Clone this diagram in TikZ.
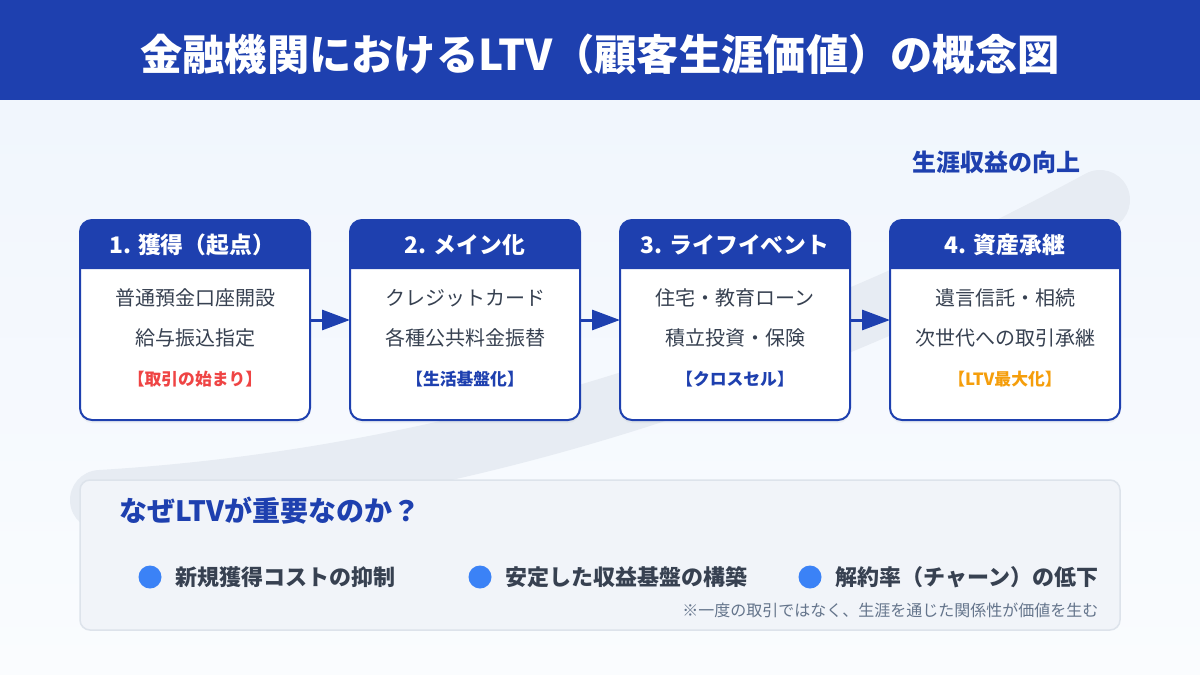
\documentclass[tikz,border=0pt]{standalone}
\usepackage{fontspec}
\setmainfont{Noto Sans CJK JP}
\usetikzlibrary{arrows.meta,calc,shadows}
\definecolor{tblue}{HTML}{1E40AF}
\definecolor{tgray}{HTML}{374151}
\definecolor{tred}{HTML}{EF4444}
\definecolor{torange}{HTML}{F59E0B}
\definecolor{bblue}{HTML}{3B82F6}
\definecolor{fgray}{HTML}{64748B}
\definecolor{pfill}{HTML}{F1F4F9}
\definecolor{pline}{HTML}{DDE3EB}
\definecolor{swoosh}{HTML}{E7ECF3}
\definecolor{bgtop}{HTML}{EFF5FD}
\definecolor{bgbot}{HTML}{FAFCFE}
\tikzset{
  stepbox/.style={fill=white, minimum width=230pt, minimum height=200pt, rounded corners=12pt, outer sep=0pt, inner sep=0pt,
    drop shadow={opacity=0.08, shadow xshift=0pt, shadow yshift=-3pt}},
  hdrtext/.style={text=white, font=\fontsize{22.8}{26}\selectfont\bfseries},
  bodytext/.style={text=tgray, font=\fontsize{20}{24}\selectfont},
  tagtext/.style={font=\fontsize{16.8}{20}\selectfont\bfseries},
  arr/.style={draw=tblue, line width=3pt, -{Triangle[length=28pt,width=20pt]}},
  bullet/.style={circle, fill=bblue, minimum size=23pt, inner sep=0pt},
  bullettext/.style={anchor=west, text=tgray, font=\fontsize{22}{26}\selectfont\bfseries},
}
\newcommand\boxhdr[1]{%
  \begin{scope}
    \clip[rounded corners=12pt] (#1.north west) rectangle (#1.south east);
    \fill[tblue, rounded corners=10pt] ($(#1.north west)+(-10,-10)$) rectangle ($(#1.north east)+(10,49)$);
  \end{scope}
  \draw[tblue, line width=2pt, rounded corners=12pt] (#1.north west) rectangle (#1.south east);}
\begin{document}
\begin{tikzpicture}[x=1pt,y=-1pt]
\useasboundingbox (0,0) rectangle (1200,675);
\shade[top color=bgtop, bottom color=bgbot] (0,0) rectangle (1200,675);
% title bar
\fill[tblue] (0,0) rectangle (1200,100);
\node[text=white, font=\fontsize{42.3}{50}\selectfont\bfseries] (title) at (600,54) {金融機関におけるLTV（顧客生涯価値）の概念図};
% swoosh
\draw[swoosh, line width=60pt, line cap=round] (100,500) .. controls (433.3,480) and (766.7,380) .. (1100,200);
\node[text=tblue, font=\fontsize{24}{28}\selectfont\bfseries] (rise) at (996,162) {生涯収益の向上};
% boxes
\node[stepbox] (b1) at (195,320) {};
\node[stepbox] (b2) at (465,320) {};
\node[stepbox] (b3) at (735,320) {};
\node[stepbox] (b4) at (1005,320) {};
\boxhdr{b1}\boxhdr{b2}\boxhdr{b3}\boxhdr{b4}
\node[hdrtext] (h1) at (192,245) {1. 獲得（起点）};
\node[hdrtext] (h2) at (465,245) {2. メイン化};
\node[hdrtext] (h3) at (735,245) {3. ライフイベント};
\node[hdrtext] (h4) at (1005,245) {4. 資産承継};
\node[bodytext] (t1a) at (195,298) {普通預金口座開設};
\node[bodytext] (t1b) at (195,338) {給与振込指定};
\node[tagtext, text=tred] (g1) at (195,379) {【取引の始まり】};
\node[bodytext] (t2a) at (465,298) {クレジットカード};
\node[bodytext] (t2b) at (465,338) {各種公共料金振替};
\node[tagtext, text=tblue] (g2) at (465,379) {【生活基盤化】};
\node[bodytext] (t3a) at (735,298) {住宅・教育ローン};
\node[bodytext] (t3b) at (735,338) {積立投資・保険};
\node[tagtext, text=tblue] (g3) at (735,379) {【クロスセル】};
\node[bodytext] (t4a) at (1005,298) {遺言信託・相続};
\node[bodytext] (t4b) at (1005,338) {次世代への取引承継};
\node[tagtext, text=torange] (g4) at (1005,379) {【LTV最大化】};
% arrows
\draw[arr] (b1.east) -- (b2.west);
\draw[arr] (b2.east) -- (b3.west);
\draw[arr] (b3.east) -- (b4.west);
% bottom panel
\node[fill=pfill, draw=pline, line width=1.5pt, rounded corners=10pt, minimum width=1040pt, minimum height=150pt, outer sep=0pt] (panel) at (600,555) {};
\node[anchor=west, text=tblue, font=\fontsize{28}{32}\selectfont\bfseries] (why) at (116,511) {なぜLTVが重要なのか？};
\node[bullet] (c1) at (150,577) {};
\node[bullet] (c2) at (480,577) {};
\node[bullet] (c3) at (810,577) {};
\node[bullettext] (r1) at (172,577) {新規獲得コストの抑制};
\node[bullettext] (r2) at (502,577) {安定した収益基盤の構築};
\node[bullettext] (r3) at (832,577) {解約率（チャーン）の低下};
\node[anchor=east, text=fgray, font=\fontsize{16}{19}\selectfont] (note) at (1102,610) {※一度の取引ではなく、生涯を通じた関係性が価値を生む};
\end{tikzpicture}
\end{document}
